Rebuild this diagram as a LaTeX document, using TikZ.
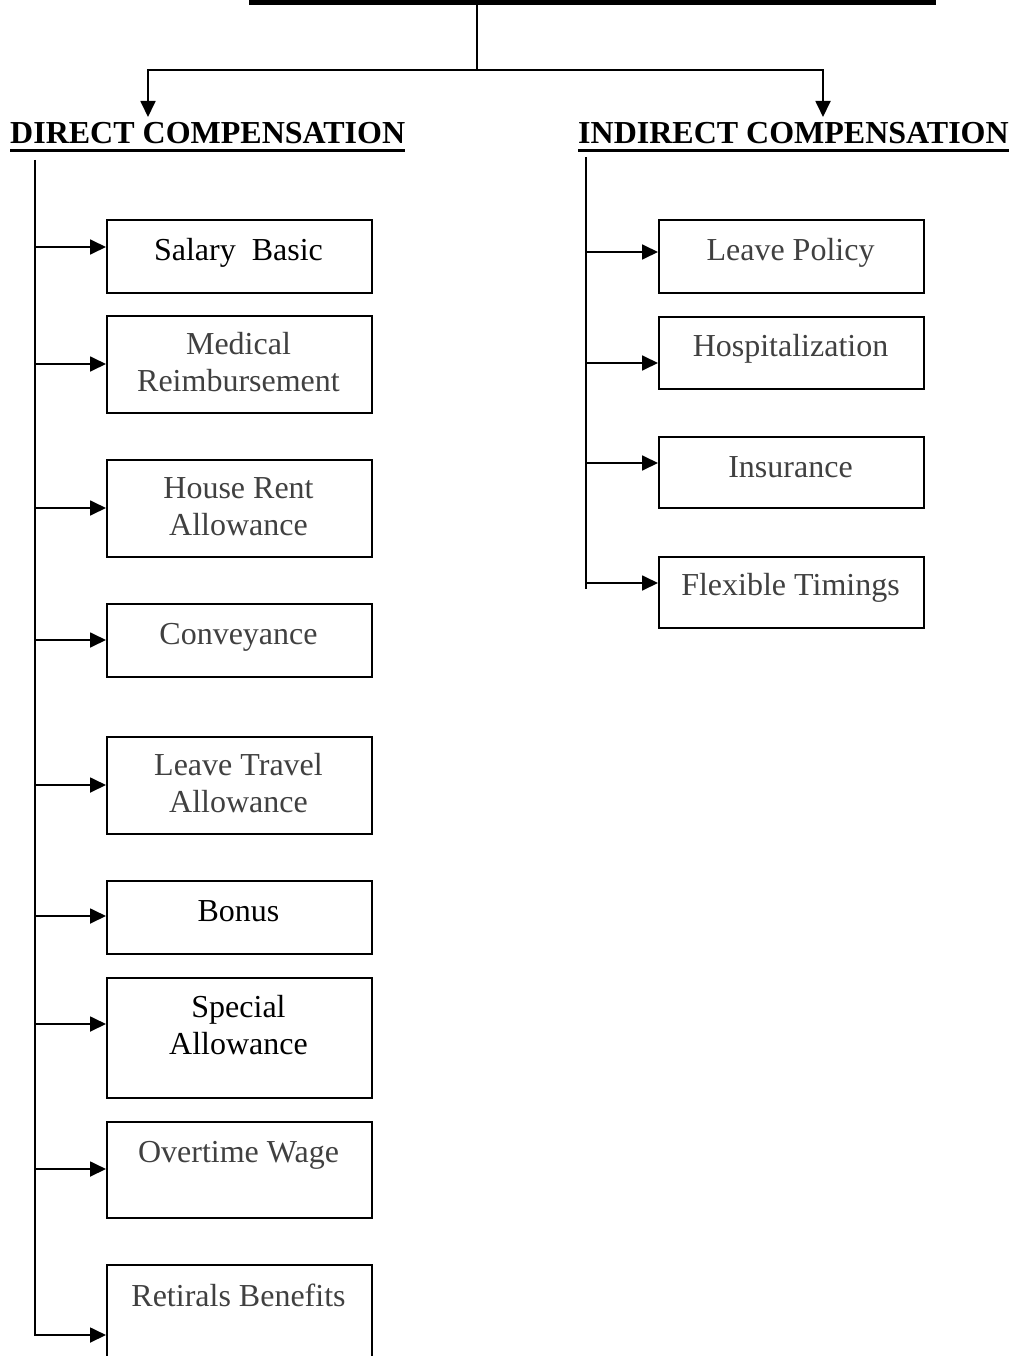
\documentclass[tikz,border=0pt]{standalone}
\usepackage{fontspec}
\setmainfont{Liberation Serif}
\usetikzlibrary{arrows.meta}
\definecolor{txtgray}{RGB}{64,64,64}
\newcommand{\twoline}[2]{\begin{tabular}[t]{@{}c@{}}#1\\#2\end{tabular}}
\begin{document}
\begin{tikzpicture}[x=1pt,y=-1pt,
  conn/.style={line width=1.8pt},
  arr/.style={conn,-{Triangle[length=16pt,width=15pt]}},
  box/.style={draw,line width=1.8pt,minimum width=265pt,inner sep=0pt,anchor=north west},
  lbl/.style={anchor=base,inner sep=0pt,font=\fontsize{32}{37}\selectfont},
  gry/.style={lbl,text=txtgray},
  head/.style={anchor=base west,inner sep=0pt,font=\fontsize{32}{37}\selectfont\bfseries},
  uline/.style={line width=3pt},
]
\clip (0,0) rectangle (1009,1356);

% top bar and split
\node[fill,minimum width=687pt,minimum height=4.5pt,inner sep=0pt,anchor=north west] (bar) at (249,0) {};
\coordinate (split) at (477,70);
\coordinate (dtip) at (148,117);
\coordinate (itip) at (823,117);
\draw[conn] (bar.south -| split) -- (split);
\draw[arr] (split) -| (dtip);
\draw[arr] (split) -| (itip);

% headings
\node[head] (dc) at (10,144) {DIRECT COMPENSATION};
\draw[uline] ([yshift=-6.5pt]dc.base west) -- ([yshift=-6.5pt]dc.base east);
\node[head] (ic) at (578,144) {INDIRECT COMPENSATION};
\draw[uline] ([yshift=-6.5pt]ic.base west) -- ([yshift=-6.5pt]ic.base east);

% direct compensation boxes
\node[box,minimum height=73pt]  (sal) at (106,219)  {};
\node[box,minimum height=97pt]  (med) at (106,315)  {};
\node[box,minimum height=97pt]  (hra) at (106,459)  {};
\node[box,minimum height=73pt]  (con) at (106,603)  {};
\node[box,minimum height=97pt]  (lta) at (106,736)  {};
\node[box,minimum height=73pt]  (bon) at (106,880)  {};
\node[box,minimum height=120pt] (spl) at (106,977)  {};
\node[box,minimum height=96pt]  (ovt) at (106,1121) {};
\node[box,minimum height=110pt] (ret) at (106,1264) {};

\node[lbl] (salt) at (238.5,260)  {Salary\ \ Basic};
\node[gry] (medt) at (238.5,354)  {\twoline{Medical}{Reimbursement}};
\node[gry] (hrat) at (238.5,498)  {\twoline{House Rent}{Allowance}};
\node[gry] (cont) at (238.5,644)  {Conveyance};
\node[gry] (ltat) at (238.5,775)  {\twoline{Leave Travel}{Allowance}};
\node[lbl] (bont) at (238.5,921)  {Bonus};
\node[lbl] (splt) at (238.5,1017) {\twoline{Special}{Allowance}};
\node[gry] (ovtt) at (238.5,1162) {Overtime Wage};
\node[gry] (rett) at (238.5,1306) {Retirals Benefits};

% direct trunk and branches
\coordinate (ltop) at (35,160);
\coordinate (lbot) at (35,1335);
\draw[arr] (ltop) -- (lbot) -- (lbot -| ret.west);
\foreach \y/\b in {247/sal,364/med,508/hra,640/con,785/lta,916/bon,1024/spl,1169/ovt}{
  \coordinate (l-\b) at (35,\y);
  \draw[arr] (l-\b) -- (l-\b -| \b.west);
}

% indirect compensation boxes
\node[box,minimum height=73pt] (lp)  at (658,219) {};
\node[box,minimum height=72pt] (hos) at (658,316) {};
\node[box,minimum height=71pt] (ins) at (658,436) {};
\node[box,minimum height=71pt] (flx) at (658,556) {};

\node[gry] (lpt)  at (790.5,260) {Leave Policy};
\node[gry] (host) at (790.5,356) {Hospitalization};
\node[gry] (inst) at (790.5,477) {Insurance};
\node[gry] (flxt) at (790.5,595) {Flexible Timings};

% indirect trunk and branches
\coordinate (rtop) at (586,157);
\coordinate (rbot) at (586,589);
\draw[conn] (rtop) -- (rbot);
\foreach \y/\b in {252/lp,363/hos,463/ins,583/flx}{
  \coordinate (r-\b) at (586,\y);
  \draw[arr] (r-\b) -- (r-\b -| \b.west);
}
\end{tikzpicture}
\end{document}
